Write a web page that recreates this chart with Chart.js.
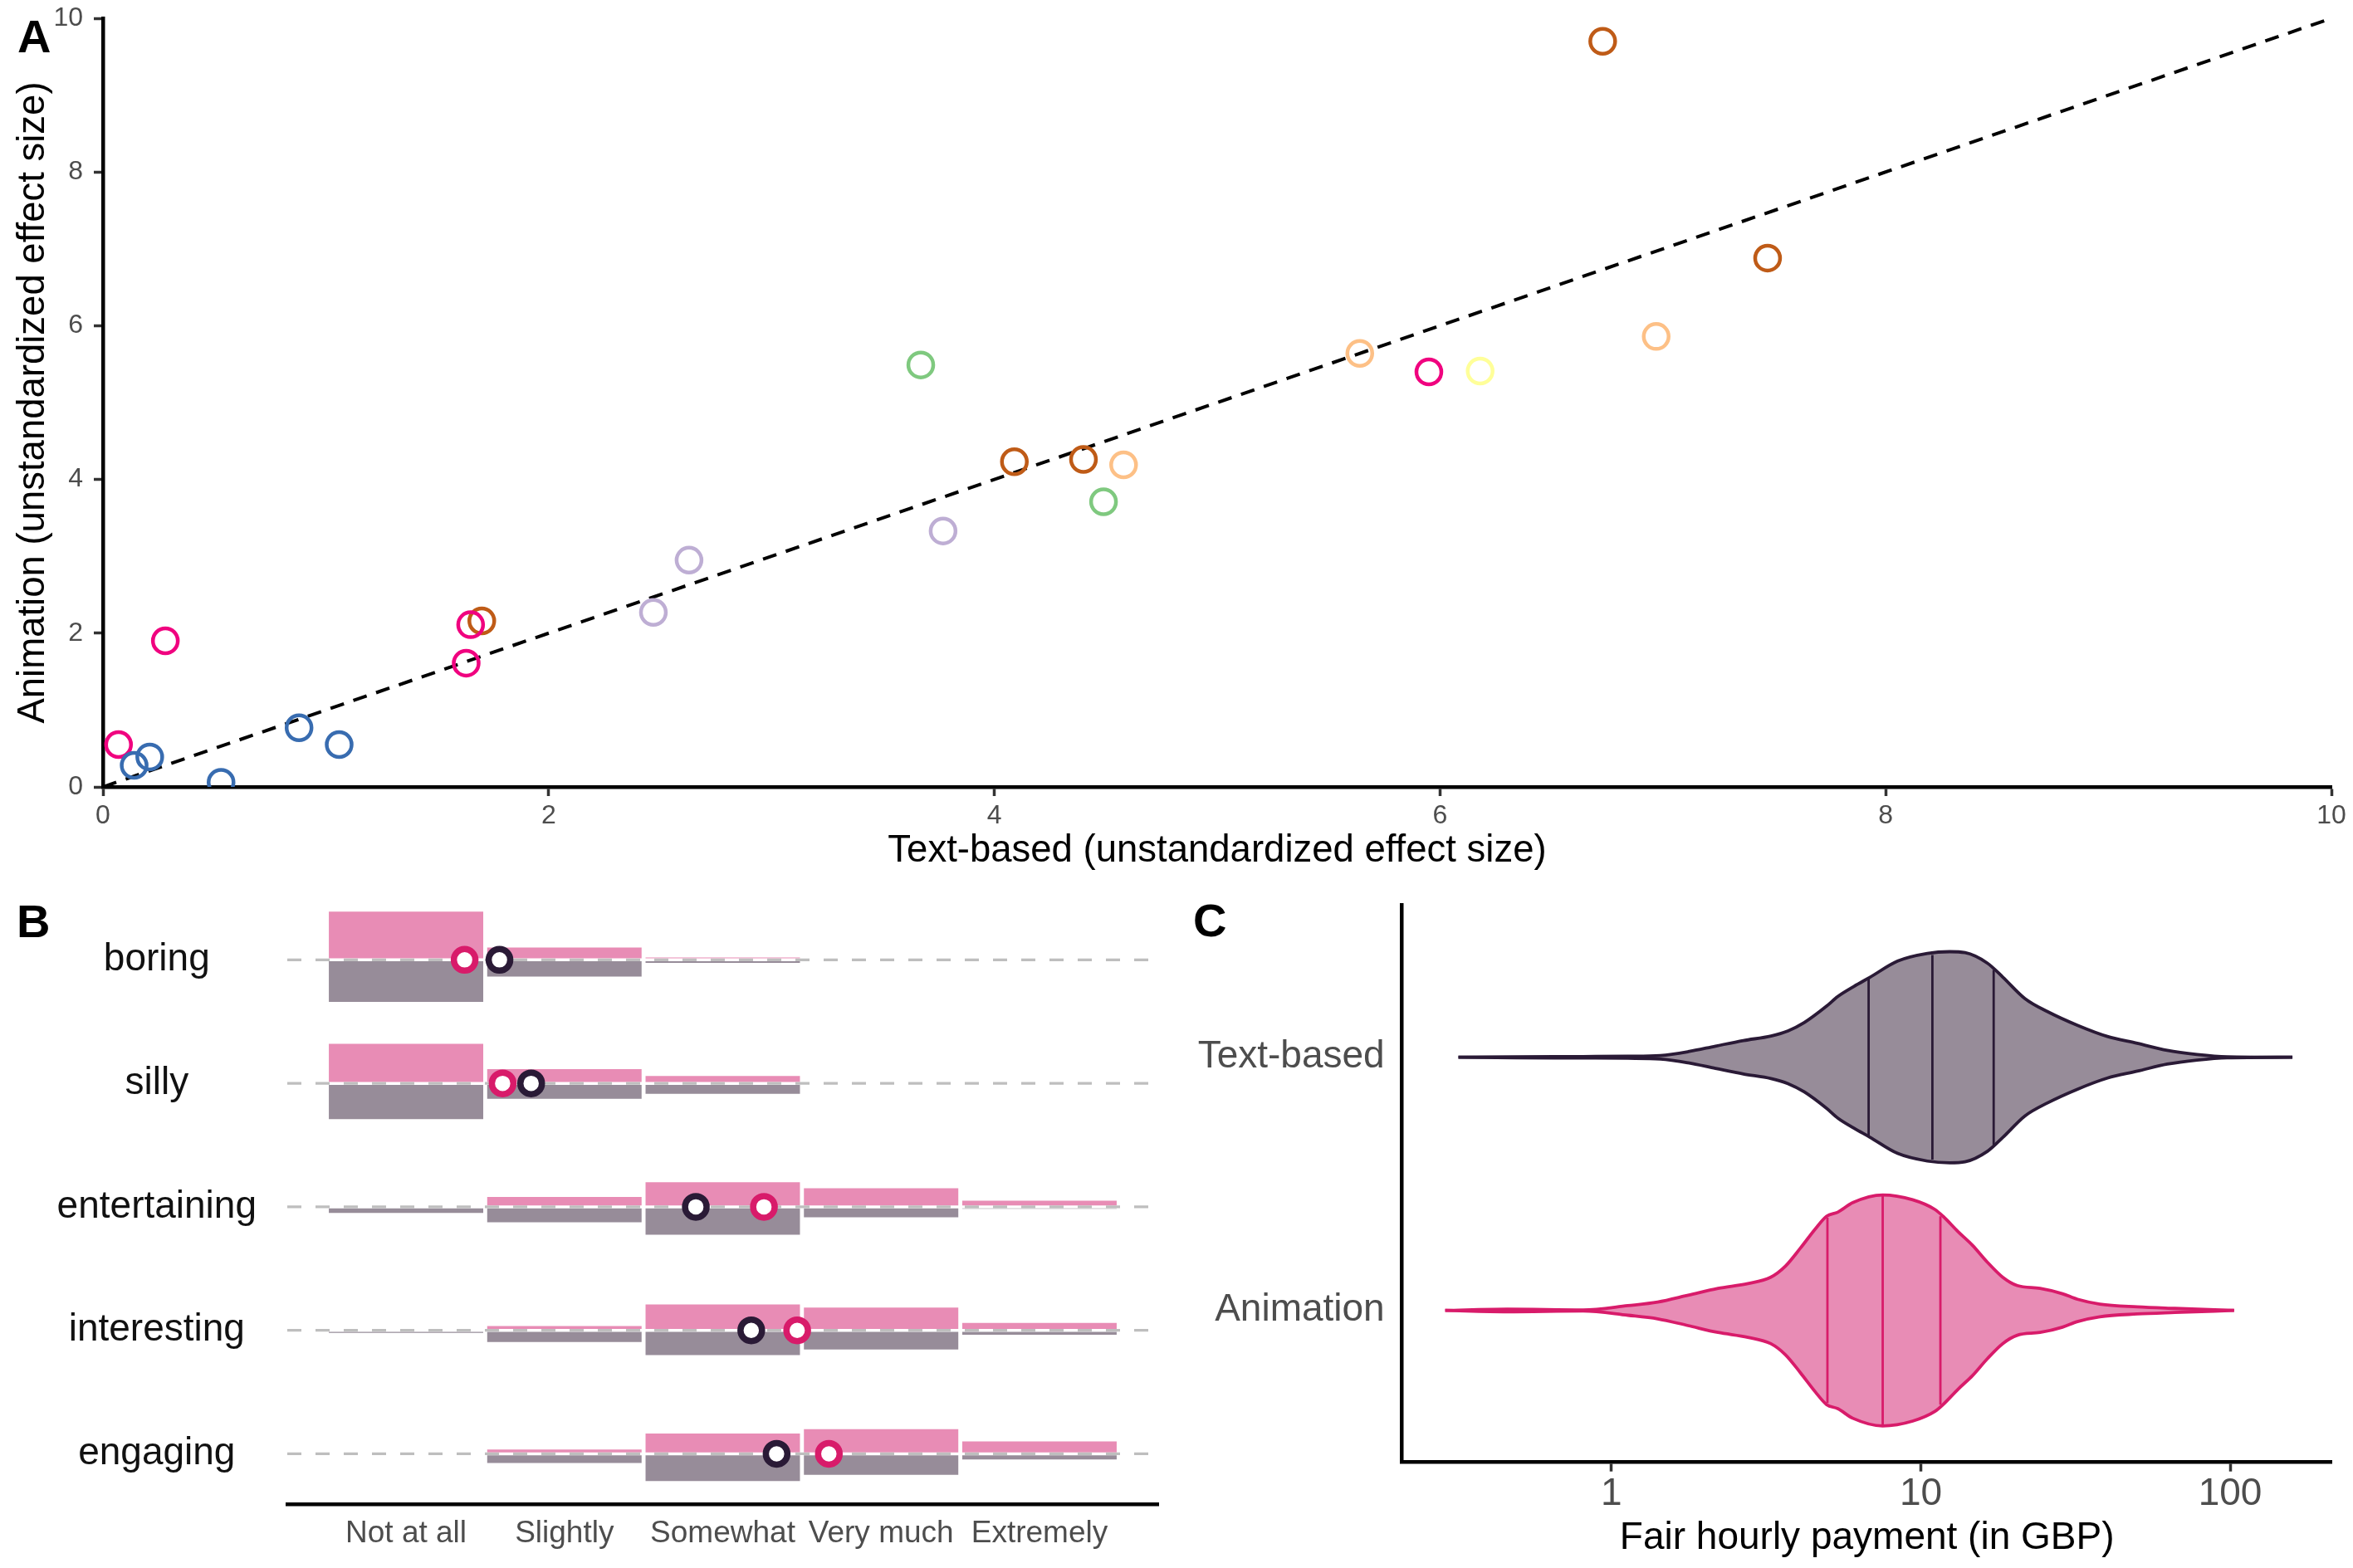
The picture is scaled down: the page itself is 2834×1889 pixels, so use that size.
<!DOCTYPE html>
<html>
<head>
<meta charset="utf-8">
<title>Effect sizes, ratings and fair payment</title>
<script src="https://cdn.jsdelivr.net/npm/chart.js@4.4.1/dist/chart.umd.min.js"></script>
<style>
  html, body { margin: 0; padding: 0; background: #fff; }
  body { width: 2834px; height: 1889px; position: relative; overflow: hidden; font-family: "Liberation Sans", Arial, sans-serif; }
  canvas { position: absolute; }
  .tag { position: absolute; font-weight: bold; font-size: 56px; line-height: 1; color: #000; z-index: 2; }
</style>
</head>
<body>
<canvas id="panel-a" width="2834" height="1060" style="left:0;top:0;width:2834px;height:1060px"></canvas>
<canvas id="panel-b" width="1420" height="829" style="left:0;top:1060px;width:1420px;height:829px"></canvas>
<canvas id="panel-c" width="1414" height="829" style="left:1420px;top:1060px;width:1414px;height:829px"></canvas>
<div class="tag" style="left:21px;top:16px">A</div>
<div class="tag" style="left:20px;top:1082px">B</div>
<div class="tag" style="left:1437px;top:1081px">C</div>
<script>
// ---- panel A: unstandardized effect sizes, text-based vs animation ----
const textEffect = [0.07, 0.28, 1.63, 1.65, 5.95, 0.14, 0.21, 0.53, 0.88, 1.06, 1.70, 4.09, 4.40, 6.73, 7.47, 2.47, 2.63, 3.77, 3.67, 4.49, 4.58, 5.64, 6.97, 6.18];
const animEffect = [0.55, 1.90, 1.61, 2.11, 5.40, 0.28, 0.39, 0.06, 0.77, 0.55, 2.16, 4.23, 4.26, 9.70, 6.88, 2.27, 2.95, 3.33, 5.49, 3.71, 4.19, 5.64, 5.86, 5.41];
const effectGroup = [0, 0, 0, 0, 0, 1, 1, 1, 1, 1, 2, 2, 2, 2, 2, 3, 3, 3, 4, 4, 5, 5, 5, 6];
const groupColors = ["#F0027F", "#386CB0", "#BF5B17", "#BEAED4", "#7FC97F", "#FDC086", "#FFFF99"];
const groupDrawOrder = [1, 0, 6, 5, 4, 3, 2]; // front to back
const identityLine = [0, 10];
const effectTicks = [0, 2, 4, 6, 8, 10];

// ---- panel B: rating distributions (share of participants) and means ----
const ratingItems = ["boring", "silly", "entertaining", "interesting", "engaging"];
const ratingLevels = ["Not at all", "Slightly", "Somewhat", "Very much", "Extremely"];
const animShare = [
  [0.78, 0.20, 0.04, 0, 0],
  [0.64, 0.23, 0.12, 0, 0],
  [0, 0.16, 0.40, 0.30, 0.10],
  [0, 0.07, 0.42, 0.37, 0.12],
  [0, 0.07, 0.33, 0.40, 0.20],
];
const textShare = [
  [0.68, 0.27, 0.05, 0, 0],
  [0.58, 0.25, 0.17, 0, 0],
  [0.10, 0.25, 0.45, 0.17, 0.03],
  [0.04, 0.19, 0.40, 0.31, 0.07],
  [0, 0.15, 0.44, 0.34, 0.09],
];
const animMean = [1.37, 1.61, 3.26, 3.47, 3.67];
const textMean = [1.59, 1.79, 2.83, 3.18, 3.34];

// ---- panel C: fair hourly payment (GBP), violin outlines ----
const payGroups = ["Text-based", "Animation"];
const textPay = [0.32, 0.49, 0.81, 1.13, 1.44, 1.77, 2.17, 2.67, 3.28, 3.72, 4.2, 4.96, 5.39, 6.08, 6.83, 8.42, 10.5, 12.4, 13.9, 16.4, 18.4, 21.7, 25.7, 32.1, 40.1, 50.1, 62.6, 78.2, 97.8, 159];
const textHalfWidth = [0, 0.002, 0.003, 0.004, 0.007, 0.022, 0.044, 0.066, 0.084, 0.104, 0.137, 0.202, 0.240, 0.280, 0.315, 0.380, 0.410, 0.417, 0.413, 0.372, 0.317, 0.232, 0.180, 0.126, 0.082, 0.055, 0.027, 0.011, 0.002, 0];
const animPay = [0.29, 0.46, 0.81, 1.13, 1.41, 1.77, 2.21, 2.76, 3.27, 3.65, 4.08, 4.56, 4.96, 5.39, 6.03, 7.53, 9.41, 11.1, 11.8, 13.2, 14.7, 16.4, 18.4, 20.5, 24.3, 28.7, 32.1, 37.9, 50.1, 66.2, 103];
const animHalfWidth = [0, 0.005, 0.002, 0.019, 0.033, 0.060, 0.087, 0.106, 0.131, 0.175, 0.246, 0.322, 0.372, 0.388, 0.426, 0.456, 0.437, 0.399, 0.372, 0.311, 0.257, 0.191, 0.131, 0.098, 0.087, 0.066, 0.044, 0.025, 0.014, 0.008, 0];
const textQuartiles = [6.78, 10.9, 17.2];
const textQuartileHalf = [0.316, 0.404, 0.345];
const animQuartiles = [4.99, 7.53, 11.57];
const animQuartileHalf = [0.366, 0.452, 0.372];
const payTicks = [1, 10, 100];

Chart.defaults.font.family = '"Liberation Sans", Arial, Helvetica, sans-serif';
Chart.defaults.animation = false;
Chart.defaults.events = [];
Chart.defaults.plugins.legend.display = false;
Chart.defaults.plugins.tooltip.enabled = false;

const TICK_GREY = "#4d4d4d";
const PINK_FILL = "#E88CB5";
const PINK_LINE = "#D81B6A";
const GREY_FILL = "#978C99";
const DARK_LINE = "#2A1A36";

// keep the plot area exactly where layout.padding + the fixed axis size put it
function fixSize(prop, size) {
  return (scale) => {
    scale[prop] = size;
    scale.paddingTop = 0;
    scale.paddingBottom = 0;
    scale.paddingLeft = 0;
    scale.paddingRight = 0;
  };
}

// ---------------- panel A ----------------
function renderEffects() {
  const datasets = groupDrawOrder.map((g) => {
    const points = [];
    effectGroup.forEach((grp, i) => {
      if (grp === g) points.push({ x: textEffect[i], y: animEffect[i] });
    });
    return {
      type: "scatter",
      data: points,
      pointRadius: 15,
      pointBorderWidth: 4.5,
      pointBorderColor: groupColors[g],
      pointBackgroundColor: "rgba(0,0,0,0)",
    };
  });

  datasets.push({
    type: "line",
    data: identityLine.map((v) => ({ x: v, y: v })),
    borderColor: "#000",
    borderWidth: 4,
    borderDash: [17, 12],
    pointRadius: 0,
    fill: false,
  });

  new Chart(document.getElementById("panel-a"), {
    type: "scatter",
    data: { datasets },
    options: {
      responsive: false,
      devicePixelRatio: 1,
      layout: { padding: { left: 0, top: 22, right: 26, bottom: 0 } },
      scales: {
        x: {
          type: "linear",
          min: 0,
          max: 10,
          afterBuildTicks: (scale) => { scale.ticks = effectTicks.map((v) => ({ value: v })); },
          ticks: { font: { size: 32 }, color: TICK_GREY, padding: 5 },
          grid: { drawOnChartArea: false, tickLength: 11, tickWidth: 3.5, tickColor: "#333" },
          border: { color: "#000", width: 4.5 },
          title: {
            display: true,
            text: "Text-based (unstandardized effect size)",
            font: { size: 45.5 },
            color: "#000",
            padding: { top: 7, bottom: 7 },
          },
          afterFit: fixSize("height", 112),
        },
        y: {
          type: "linear",
          min: 0,
          max: 10,
          afterBuildTicks: (scale) => { scale.ticks = effectTicks.map((v) => ({ value: v })); },
          ticks: { font: { size: 32 }, color: TICK_GREY, padding: 13 },
          grid: { drawOnChartArea: false, tickLength: 11, tickWidth: 3.5, tickColor: "#333" },
          border: { color: "#000", width: 4.5 },
          title: {
            display: true,
            text: "Animation (unstandardized effect size)",
            font: { size: 45.5 },
            color: "#000",
            padding: { top: 13, bottom: 13 },
          },
          afterFit: fixSize("width", 124),
        },
      },
    },
  });
}

// ---------------- panel B ----------------
function renderRatings() {
  const rowCount = ratingItems.length;
  const barScale = 0.5; // 100 % of a group fills half a row
  const xMin = 0.25;
  const xMax = 5.75;

  const bars = (shares, sign) => {
    const out = [];
    shares.forEach((row, i) => {
      const base = rowCount - i;
      row.forEach((p, k) => {
        if (p > 0) out.push({ x: k + 1, y: [base, base + sign * p * barScale] });
      });
    });
    return out;
  };

  const datasets = [
    {
      type: "scatter",
      data: textMean.map((m, i) => ({ x: m, y: rowCount - i })),
      pointRadius: 13,
      pointBorderWidth: 7.5,
      pointBorderColor: DARK_LINE,
      pointBackgroundColor: "#fff",
      order: 0,
    },
    {
      type: "scatter",
      data: animMean.map((m, i) => ({ x: m, y: rowCount - i })),
      pointRadius: 13,
      pointBorderWidth: 7.5,
      pointBorderColor: PINK_LINE,
      pointBackgroundColor: "#fff",
      order: 0,
    },
  ];

  ratingItems.forEach((item, i) => {
    const y = rowCount - i;
    datasets.push({
      type: "line",
      data: [{ x: xMin, y }, { x: xMax, y }],
      borderColor: "#BEBEBE",
      borderWidth: 3.3,
      borderDash: [17, 17],
      pointRadius: 0,
      order: 1,
    });
    datasets.push({
      type: "line",
      data: [{ x: xMin, y }, { x: xMax, y }],
      borderColor: "#fff",
      borderWidth: 3.5,
      pointRadius: 0,
      order: 2,
    });
  });

  datasets.push({
    type: "bar",
    data: bars(animShare, 1),
    backgroundColor: PINK_FILL,
    grouped: false,
    categoryPercentage: 1,
    barPercentage: 0.975,
    order: 3,
  });
  datasets.push({
    type: "bar",
    data: bars(textShare, -1),
    backgroundColor: GREY_FILL,
    grouped: false,
    categoryPercentage: 1,
    barPercentage: 0.975,
    order: 3,
  });

  new Chart(document.getElementById("panel-b"), {
    type: "bar",
    data: { datasets },
    options: {
      responsive: false,
      devicePixelRatio: 1,
      layout: { padding: { left: 0, top: 20, right: 25, bottom: 0 } },
      scales: {
        x: {
          type: "linear",
          min: xMin,
          max: xMax,
          offset: false,
          afterBuildTicks: (scale) => { scale.ticks = ratingLevels.map((_, k) => ({ value: k + 1 })); },
          ticks: {
            font: { size: 37 },
            color: TICK_GREY,
            padding: 6,
            maxRotation: 0,
            autoSkip: false,
            callback: (v) => ratingLevels[v - 1],
          },
          grid: { display: false, offset: false },
          border: { color: "#000", width: 4.5 },
          afterFit: fixSize("height", 77),
        },
        y: {
          type: "linear",
          min: 0.593,
          max: 5.51,
          afterBuildTicks: (scale) => { scale.ticks = ratingItems.map((_, i) => ({ value: rowCount - i })); },
          ticks: {
            font: { size: 46 },
            color: "#111",
            padding: 29,
            crossAlign: "center",
            autoSkip: false,
            callback: (v) => ratingItems[rowCount - v],
          },
          grid: { display: false },
          border: { display: false },
          afterFit: fixSize("width", 346),
        },
      },
    },
  });
}

// ---------------- panel C ----------------
function renderPayment() {
  const outline = (pay, half, center, sign) => pay.map((v, i) => ({ x: v, y: center + sign * half[i] }));
  const quartileLines = (qs, halves, center, color) =>
    qs.map((q, i) => ({
      data: [{ x: q, y: center - halves[i] }, { x: q, y: center + halves[i] }],
      borderColor: color,
      borderWidth: 2.8,
      pointRadius: 0,
      fill: false,
      order: 0,
    }));

  const violin = (pay, half, center, line, fillColor) => [
    {
      data: outline(pay, half, center, -1),
      borderColor: line,
      borderWidth: 3.8,
      pointRadius: 0,
      cubicInterpolationMode: "monotone",
      fill: false,
      order: 1,
    },
    {
      data: outline(pay, half, center, 1),
      borderColor: line,
      borderWidth: 3.8,
      pointRadius: 0,
      cubicInterpolationMode: "monotone",
      fill: "-1",
      backgroundColor: fillColor,
      order: 1,
    },
  ];

  const datasets = [
    ...violin(textPay, textHalfWidth, 1, DARK_LINE, GREY_FILL),
    ...violin(animPay, animHalfWidth, 2, PINK_LINE, PINK_FILL),
    ...quartileLines(textQuartiles, textQuartileHalf, 1, DARK_LINE),
    ...quartileLines(animQuartiles, animQuartileHalf, 2, PINK_LINE),
  ];

  new Chart(document.getElementById("panel-c"), {
    type: "line",
    data: { datasets },
    options: {
      responsive: false,
      devicePixelRatio: 1,
      layout: { padding: { left: 0, top: 30.7, right: 25.4, bottom: 0 } },
      scales: {
        x: {
          type: "logarithmic",
          min: 0.2104,
          max: 213.3,
          afterBuildTicks: (scale) => { scale.ticks = payTicks.map((v) => ({ value: v })); },
          ticks: { font: { size: 46 }, color: TICK_GREY, padding: 0, callback: (v) => String(v) },
          grid: { drawOnChartArea: false, tickLength: 11, tickWidth: 3.5, tickColor: "#333" },
          border: { color: "#000", width: 4.5 },
          title: {
            display: true,
            text: "Fair hourly payment (in GBP)",
            font: { size: 46 },
            color: "#000",
            padding: { top: 8, bottom: 8 },
          },
          afterFit: fixSize("height", 127.3),
        },
        y: {
          type: "linear",
          min: 0.4,
          max: 2.6,
          reverse: true,
          afterBuildTicks: (scale) => { scale.ticks = payGroups.map((_, i) => ({ value: i + 1 })); },
          ticks: { font: { size: 46 }, color: TICK_GREY, padding: 13, callback: (v) => payGroups[v - 1] },
          grid: { display: false },
          border: { color: "#000", width: 4.5 },
          afterFit: fixSize("width", 268.7),
        },
      },
    },
  });
}

renderEffects();
renderRatings();
renderPayment();
</script>
</body>
</html>
